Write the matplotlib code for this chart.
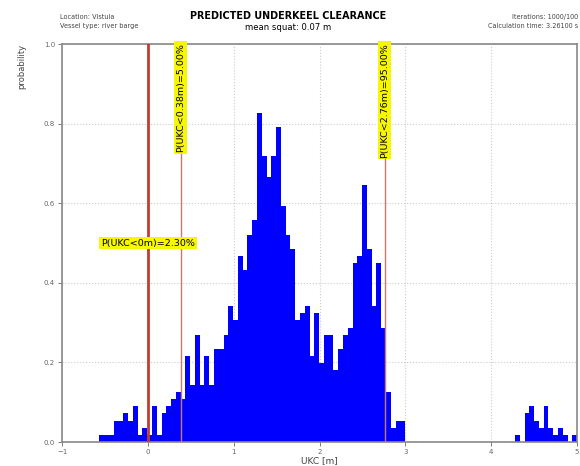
import numpy as np
import matplotlib
matplotlib.use('Agg')
import matplotlib.pyplot as plt

# histogram of simulated UKC, 1000 iterations, 100 bins
n_iter = 1000
x_min, x_max = -0.565, 5.0
counts = [1, 1, 1, 3, 3, 4, 3, 5, 1, 2,
          1, 5, 1, 4, 5, 6, 7, 6, 12, 8,
          15, 8, 12, 8, 13, 13, 15, 19, 17, 26,
          24, 29, 31, 46, 40, 37, 40, 44, 33, 29,
          27, 17, 18, 19, 12, 18, 11, 15, 15, 10,
          13, 15, 16, 25, 26, 36, 27, 19, 25, 16,
          7, 2, 3, 3, 0, 0, 0, 0, 0, 0,
          0, 0, 0, 0, 0, 0, 0, 0, 0, 0,
          0, 0, 0, 0, 0, 0, 0, 1, 0, 4,
          5, 3, 2, 5, 2, 1, 2, 1, 0, 1]

# probability levels
levels = [0.0, 0.38, 2.76]
level_labels = ['P(UKC<0m)=2.30%', 'P(UKC<0.38m)=5.00%', 'P(UKC<2.76m)=95.00%']

edges = np.linspace(x_min, x_max, len(counts) + 1)
width = edges[1] - edges[0]
density = np.array(counts) / (n_iter * width)

fig = plt.figure(figsize=(5.8, 4.66), dpi=100)
ax = fig.add_axes([0.107, 0.0515, 0.888, 0.854])

ax.bar(edges[:-1], density, width=width, align='edge', color='#0000ff',
       linewidth=0, zorder=2)

# critical levels
ax.axvline(levels[0], color='#c43a2e', lw=2, zorder=3)
ax.axvline(levels[1], color='#c47a70', lw=1, zorder=3)
ax.axvline(levels[2], color='#c47a70', lw=1, zorder=3)

box = dict(boxstyle='square,pad=0.2', fc='#f7f700', ec='none')
ax.text(levels[0], 0.5, level_labels[0], ha='center', va='center',
        fontsize=6.8, bbox=box, zorder=4)
ax.text(levels[1], 1.003, level_labels[1], ha='center', va='top',
        rotation=90, fontsize=6.8, bbox=box, zorder=4, clip_on=False)
ax.text(levels[2], 1.003, level_labels[2], ha='center', va='top',
        rotation=90, fontsize=6.8, bbox=box, zorder=4, clip_on=False)

ax.set_xlim(-1, 5)
ax.set_ylim(0, 1)
ax.set_xticks(np.arange(-1, 6, 1))
ax.set_yticks(np.arange(0, 1.01, 0.2))
ax.set_yticklabels(['0.0', '0.2', '0.4', '0.6', '0.8', '1.0'])
ax.tick_params(labelsize=5, colors='#666666', length=3, width=0.6, pad=2)
ax.grid(True, ls=':', color='#cccccc', lw=0.8, zorder=0)
for s in ax.spines.values():
    s.set_color('#888888')
    s.set_linewidth(1.2)

ax.set_xlabel('UKC [m]', fontsize=6.5, color='#444444', labelpad=1)
ax.set_ylabel('probability', fontsize=6, color='#444444', loc='top', labelpad=13)

fig.text(0.497, 0.965, 'PREDICTED UNDERKEEL CLEARANCE', ha='center', va='center',
         fontsize=6.9, fontweight='bold')
fig.text(0.497, 0.94, 'mean squat: 0.07 m', ha='center', va='center', fontsize=6.1)
fig.text(0.103, 0.954, 'Location: Vistula\nVessel type: river barge', ha='left',
         va='center', fontsize=4.7, color='#444444', linespacing=1.5)
fig.text(0.997, 0.954, 'Iterations: 1000/100\nCalculation time: 3.26100 s',
         ha='right', va='center', fontsize=4.7, color='#444444', linespacing=1.5,
         multialignment='right')

fig.savefig('out.png', dpi=100)
